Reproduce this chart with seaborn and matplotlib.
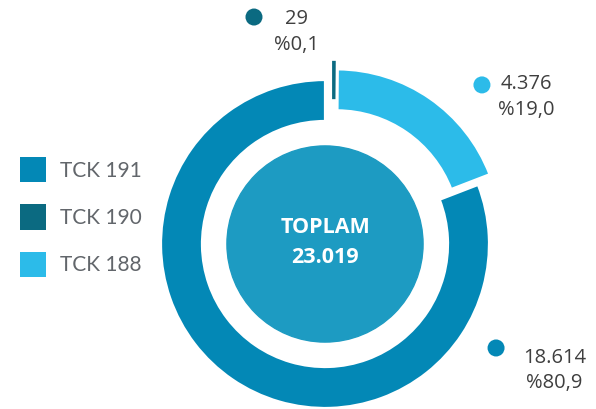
import matplotlib
matplotlib.use("Agg")
import matplotlib.pyplot as plt
import seaborn as sns
from matplotlib.patches import Patch

# ---- data ----
categories = ["TCK 191", "TCK 190", "TCK 188"]
values = [18614, 29, 4376]
value_labels = ["18.614", "29", "4.376"]
pct_labels = ["%80,9", "%0,1", "%19,0"]
total_title = "TOPLAM"
total_label = "23.019"

colors = {"TCK 191": "#0388B6", "TCK 190": "#0B6A81", "TCK 188": "#2CBBE9"}
center_color = "#1D9BC2"
text_color = "#3F3F3F"

sns.set_theme(style="white")
plt.rcParams["font.family"] = ["Open Sans", "DejaVu Sans"]

fig = plt.figure(figsize=(5.96, 4.09), dpi=100)
ax = fig.add_axes([0, 0, 1, 1])

# pie order clockwise from top: TCK 190, TCK 188, TCK 191
order = ["TCK 190", "TCK 188", "TCK 191"]
pie_vals = [values[categories.index(c)] for c in order]
wedges, _ = ax.pie(
    pie_vals,
    colors=[colors[c] for c in order],
    startangle=90,
    counterclock=False,
    radius=1.0,
    wedgeprops=dict(width=0.25, edgecolor="white", linewidth=1.6),
)
# pull the two small slices out of the ring
w190, w188 = wedges[0], wedges[1]
w188.set_center((0.07, 0.065))
w190.set_edgecolor(colors["TCK 190"])
w190.set_linewidth(1.6)
w190.set_radius(1.11)
w190.set_width(0.22)
w190.set_center((0.05, 0.0))
w190.set_zorder(3)

# centre disc
ax.add_patch(plt.Circle((0, 0), 0.598, color=center_color, zorder=3))
ax.text(0, 0.098, total_title, ha="center", va="center", color="white",
        fontsize=15.5, fontweight="bold", zorder=4)
ax.text(0, -0.08, total_label, ha="center", va="center", color="white",
        fontsize=15.5, fontweight="bold", zorder=4)

# value labels
dot_pos = {"TCK 190": (-0.433, 1.384), "TCK 188": (0.957, 0.970), "TCK 191": (1.043, -0.634)}
txt_pos = {"TCK 190": (-0.171, 1.372, 1.213), "TCK 188": (1.23, 0.973, 0.817),
           "TCK 191": (1.40, -0.695, -0.848)}
for c in categories:
    i = categories.index(c)
    dx, dy = dot_pos[c]
    ax.scatter([dx], [dy], s=150, color=colors[c], edgecolor="none", zorder=5)
    tx, ty1, ty2 = txt_pos[c]
    ax.text(tx, ty1, value_labels[i], ha="center", va="center", fontsize=14.5, color=text_color)
    ax.text(tx, ty2, pct_labels[i], ha="center", va="center", fontsize=14.5, color=text_color)

# legend
handles = [Patch(facecolor=colors[c], edgecolor="none", label=c) for c in categories]
leg = ax.legend(handles=handles, loc="upper left", bbox_to_anchor=(0.0336, 0.616),
                bbox_transform=fig.transFigure, frameon=False,
                prop=dict(family=["Lato", "DejaVu Sans"], size=15),
                handlelength=1.25, handleheight=1.5, handletextpad=0.67,
                labelspacing=1.05, borderaxespad=0, borderpad=0)
for t in leg.get_texts():
    t.set_color("#62666B")

ax.set_xlim(-325 / 164, (596 - 325) / 164)
ax.set_ylim(-(409 - 244) / 164, 244 / 164)
ax.set_aspect("equal", adjustable="box")
ax.axis("off")

fig.savefig("out.png", dpi=100)
